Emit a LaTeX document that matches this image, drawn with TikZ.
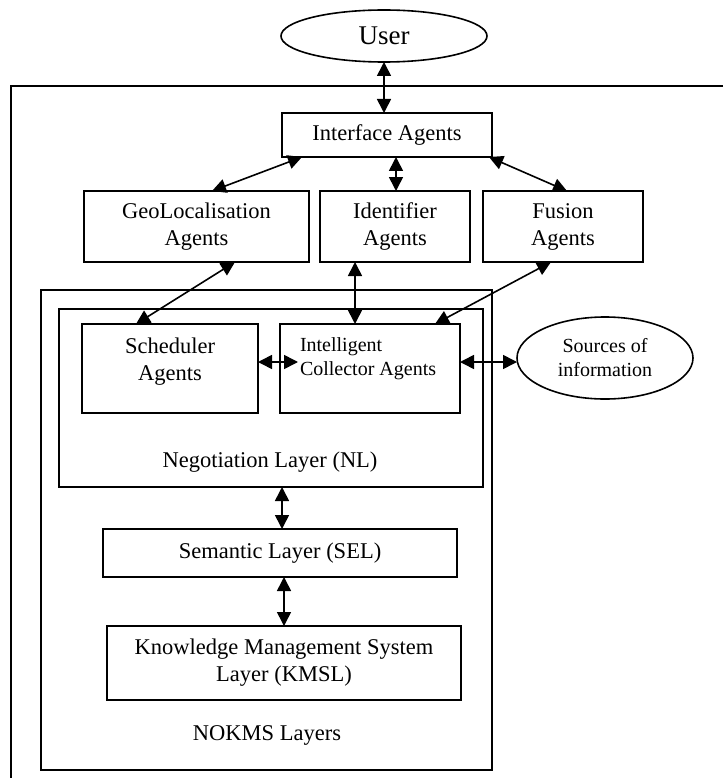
\documentclass[tikz,border=0pt]{standalone}
\usepackage{fontspec}
\setmainfont{Liberation Serif}
\usetikzlibrary{shapes.geometric,arrows.meta,calc}

\newcommand\mainsize{\fontsize{22.5}{27}\selectfont}
\newcommand\smallsize{\fontsize{20}{24}\selectfont}
\newcommand\usersize{\fontsize{27}{30}\selectfont}

\begin{document}
\begin{tikzpicture}[x=1pt,y=-1pt,
  box/.style={draw,line width=1.8pt,inner sep=0pt,outer sep=0pt,align=center,font=\mainsize},
  oval/.style={draw,ellipse,line width=1.6pt,inner sep=0pt,outer sep=0pt,align=center},
  caption/.style={inner sep=0pt,outer sep=0pt,align=center,font=\mainsize},
  link/.style={line width=1.6pt,{Triangle[length=14pt,width=14pt]}-{Triangle[length=14pt,width=14pt]}},
  frame/.style={line width=1.8pt}]

\useasboundingbox (0,0) rectangle (723,778);

% open outer frame
\coordinate (fr1) at (723,86);
\coordinate (fr2) at (11,86);
\coordinate (fr3) at (11,778);
\draw[frame] (fr1) -- (fr2) -- (fr3);

% user and top-level agents
\node[oval,minimum width=206pt,minimum height=52pt,font=\usersize] (user) at (384,36) {User};
\node[box,minimum width=210pt,minimum height=44pt] (iface) at (387,135) {Interface Agents};
\node[box,minimum width=225pt,minimum height=71pt] (geo) at (196.5,226.5) {GeoLocalisation\\Agents};
\node[box,minimum width=150pt,minimum height=71pt] (ident) at (395,226.5) {Identifier\\Agents};
\node[box,minimum width=160pt,minimum height=71pt] (fusion) at (563,226.5) {Fusion\\Agents};

% NOKMS layers
\node[box,minimum width=451pt,minimum height=480pt] (nokms) at (266.5,530) {};
\node[box,minimum width=424pt,minimum height=178pt] (nl) at (271,398) {};
\node[box,minimum width=176pt,minimum height=89pt] (sched) at (170,368.5) {};
\node[box,minimum width=180pt,minimum height=89pt] (coll) at (370,368.5) {};
\node[caption] (schedtxt) at (170,361.5) {Scheduler\\Agents};
\node[caption,anchor=west,align=left,font=\smallsize] (colltxt) at (300,359) {Intelligent\\Collector Agents};
\node[caption] (nltxt) at (270,462) {Negotiation Layer (NL)};
\node[box,minimum width=354pt,minimum height=48pt] (sel) at (280,553) {Semantic Layer (SEL)};
\node[box,minimum width=354pt,minimum height=74pt] (kmsl) at (284,663) {Knowledge Management System\\Layer (KMSL)};
\node[caption] (nokmstxt) at (267,735) {NOKMS Layers};

% external sources
\node[oval,minimum width=176pt,minimum height=82pt,font=\smallsize] (src) at (605,358) {Sources of\\information};

% connector end points
\coordinate (a1) at ($(iface.south west)+(20,0)$);
\coordinate (a2) at ($(geo.north)+(15.5,0)$);
\coordinate (b1) at ($(iface.south)+(9,0)$);
\coordinate (c1) at ($(iface.south east)+(-3,0)$);
\coordinate (c2) at ($(fusion.north)+(4,0)$);
\coordinate (d1) at ($(geo.south)+(38.5,0)$);
\coordinate (d2) at ($(sched.north)+(-34,0)$);
\coordinate (e1) at ($(ident.south)+(-40,0)$);
\coordinate (f1) at ($(fusion.south)+(-12,0)$);
\coordinate (f2) at ($(coll.north)+(65,0)$);
\coordinate (g1) at ($(sched.east)+(0,-6.5)$);
\coordinate (g2) at ($(coll.west)+(18,-6.5)$);
\coordinate (h1) at ($(coll.east)+(0,-6.5)$);
\coordinate (n1) at ($(nl.south)+(11,0)$);
\coordinate (s1) at ($(sel.south)+(4,0)$);

% connectors
\draw[link] (user.south) -- (user.south |- iface.north);
\draw[link] (a1) -- (a2);
\draw[link] (b1) -- (b1 |- ident.north);
\draw[link] (c1) -- (c2);
\draw[link] (d1) -- (d2);
\draw[link] (e1) -- (e1 |- coll.north);
\draw[link] (f1) -- (f2);
\draw[link] (g1) -- (g2);
\draw[link] (h1) -- (h1 -| src.west);
\draw[link] (n1) -- (n1 |- sel.north);
\draw[link] (s1) -- (s1 |- kmsl.north);
\end{tikzpicture}
\end{document}
